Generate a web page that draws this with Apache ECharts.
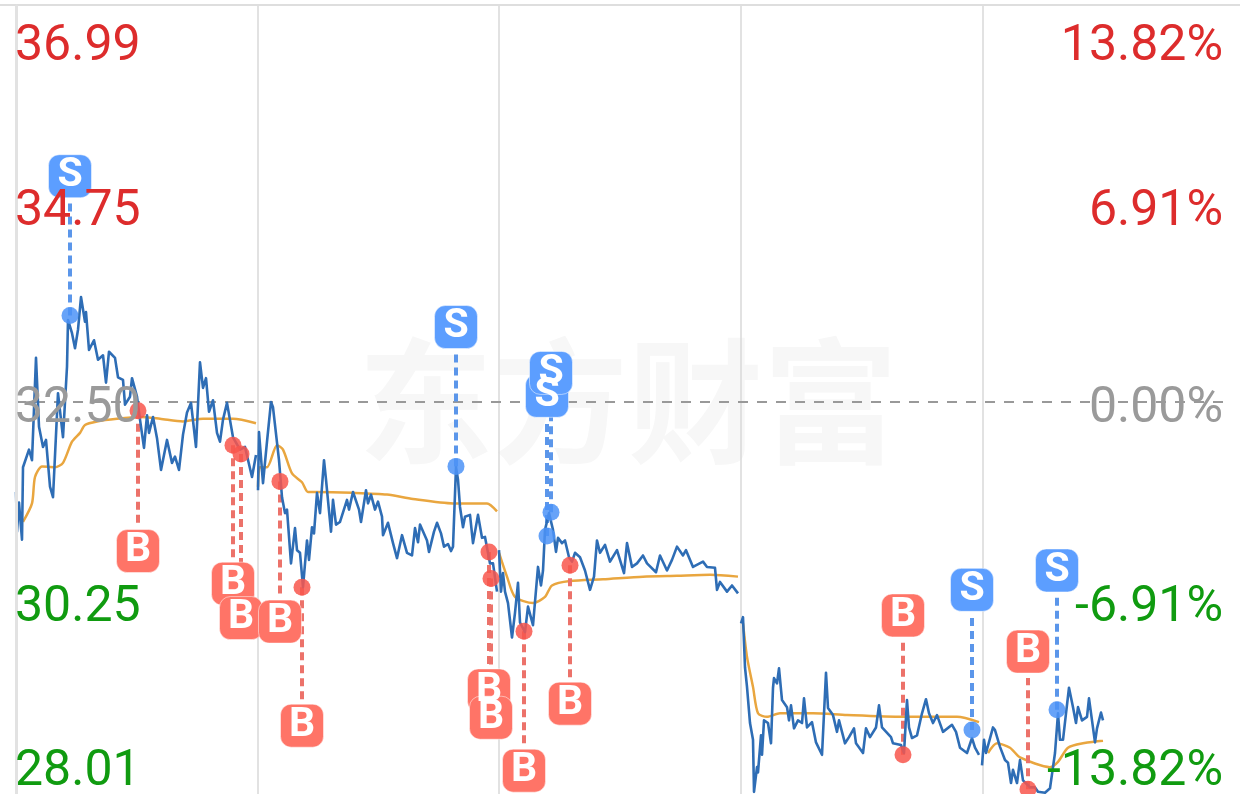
<!DOCTYPE html>
<html><head><meta charset="utf-8">
<style>html,body{margin:0;padding:0;background:#fff}#c{width:1240px;height:794px}</style>
<script src="https://cdn.jsdelivr.net/npm/echarts@6/dist/echarts.min.js"></script>
</head><body><div id="c"></div>
<script>
const priceTicks=[28.01,30.25,32.50,34.75,36.99];
const pctTicks=[-13.82,-6.91,0,6.91,13.82];
const gridPrices=[30.25,34.75];
const priceTimes=[0,1,3,6,7,13,16,20,23,27,30,34,37,42,47,51,52,56,59,62,65,69,70,73,78,82,87,90,93,99,102,107,109,114,116,121,124,128,131,133,137,141,145,151,156,159,163,167,171,175,180,184,187,190,193,197,201,204,207,211,217,224,229,236,240,241,
242,243,247,251,255,257,263,266,269,271,275,279,281,284,287,291,293,296,298,301,304,308,310,315,317,320,324,331,333,337,343,345,350,352,355,359,362,366,367,372,377,381,386,391,396,399,402,404,411,413,418,421,425,428,432,435,437,440,442,444,447,449,454,457,462,466,469,474,477,481,482,
483,485,487,489,492,496,499,502,504,509,512,517,522,525,527,529,533,537,540,542,546,549,553,556,559,564,569,574,578,581,584,589,594,601,608,611,616,621,627,631,640,644,651,656,661,667,670,677,687,691,699,701,704,711,716,722,723,
725,727,729,731,734,737,738,741,742,745,746,748,752,755,757,758,761,763,766,771,773,775,778,782,786,788,791,796,800,806,810,812,817,821,823,829,833,838,840,847,850,854,860,863,866,875,877,885,888,891,893,896,901,906,910,913,917,921,927,936,940,944,951,956,959,963,964,
966,968,970,977,979,984,989,992,995,997,1001,1004,1007,1014,1019,1022,1029,1034,1037,1039,1042,1044,1047,1050,1053,1057,1060,1062,1066,1071,1073,1076,1079,1081,1085,1087];
const prices=[31.48,31.03,31.36,30.94,31.76,31.96,31.84,33.00,32.22,31.99,32.07,31.54,31.42,32.60,32.10,32.90,33.43,33.28,33.11,33.32,33.69,33.41,33.52,33.09,33.20,32.98,33.03,32.72,33.07,33.00,32.78,32.75,32.47,32.56,32.77,32.56,32.30,31.98,32.35,32.15,32.33,32.09,31.73,32.07,31.81,31.88,31.73,32.13,32.38,32.49,31.99,32.95,32.66,32.77,32.39,32.52,32.15,32.05,32.30,32.49,32.10,31.96,31.99,31.65,31.90,null,
31.50,32.16,31.58,32.05,32.50,32.44,31.84,31.42,31.24,31.28,30.67,31.07,30.82,30.79,30.40,30.93,30.71,31.08,31.01,31.47,31.24,31.84,31.62,31.03,31.39,31.11,31.14,31.39,31.28,31.48,31.28,31.14,31.50,31.35,31.45,31.28,31.37,31.20,30.99,31.13,30.90,30.73,30.99,30.79,30.76,31.07,30.91,31.11,30.93,30.80,31.03,31.13,31.01,30.86,30.89,30.81,30.86,31.76,31.62,31.31,31.08,31.20,31.22,30.90,31.22,30.96,30.97,30.67,30.67,30.35,null,
30.82,30.35,30.56,30.35,30.22,29.83,30.11,30.45,30.00,29.89,30.18,29.97,30.63,30.42,30.59,31.05,31.24,31.05,30.80,30.96,30.90,30.93,30.74,30.69,30.79,30.74,30.59,30.37,30.52,30.93,30.79,30.88,30.69,30.82,30.56,30.90,30.63,30.67,30.76,30.67,30.57,30.76,30.59,30.71,30.86,30.76,30.82,30.63,30.69,30.63,30.62,30.37,30.46,30.35,30.42,30.33,null,
29.99,30.06,29.49,29.27,28.86,28.67,28.08,28.36,28.30,28.72,28.50,28.89,28.86,28.63,29.26,29.37,29.31,29.48,29.12,29.04,28.89,29.06,28.80,28.89,28.86,29.14,28.81,28.87,28.64,28.50,29.43,29.03,28.95,28.76,28.89,28.63,28.70,28.80,28.63,28.52,28.80,28.70,28.81,29.06,28.81,28.70,28.63,28.61,28.52,29.12,28.81,28.69,28.72,28.97,29.13,28.97,28.86,28.95,28.76,28.84,28.76,28.58,28.52,28.69,28.58,28.50,null,
28.38,28.67,28.52,28.81,28.78,28.59,28.44,28.41,28.18,28.33,28.18,28.44,28.21,28.13,28.13,28.08,28.07,28.12,28.36,28.52,28.97,28.67,28.67,28.97,29.26,29.04,28.86,29.04,28.89,28.93,29.14,28.89,28.64,28.80,28.98,28.89];
const avgTimes=[7,16,19,26,39,47,56,64,69,81,101,124,144,167,187,217,240,241,
242,244,251,261,267,276,286,292,301,337,371,397,437,471,481,482,
483,491,499,517,529,536,554,587,627,661,694,722,723,
727,731,737,742,751,764,797,831,887,941,963,964,
972,981,994,1004,1034,1042,1052,1067,1087];
const avgPrices=[31.14,31.35,31.65,31.77,31.76,31.81,32.05,32.15,32.24,32.28,32.31,32.33,32.31,32.28,32.31,32.31,32.26,null,
31.54,31.76,31.76,32.01,31.96,31.69,31.59,31.48,31.48,31.47,31.45,31.40,31.35,31.35,31.26,null,
30.79,30.52,30.29,30.22,30.29,30.42,30.47,30.49,30.52,30.53,30.54,30.52,null,
29.99,29.61,29.27,28.97,28.93,28.97,28.97,28.95,28.93,28.93,28.87,null,
28.52,28.63,28.58,28.47,28.36,28.42,28.58,28.63,28.66];
const signalTypes=['S','B','B','B','B','B','S','B','B','B','S','S','B','B','S','B','S'];
const signalTimes=[54,122,217,225,264,286,440,473,475,508,531,535,554,887,956,1012,1041];
const signalPrices=[33.48,32.40,32.01,31.91,31.60,30.40,31.77,30.80,30.50,29.90,30.98,31.25,30.65,28.50,28.78,28.11,29.01];
const badgePrices=[35.06,30.81,30.44,30.05,30.01,28.83,33.35,29.23,28.92,28.32,32.57,32.83,29.08,30.08,30.37,29.67,30.59];
const watermark='东方财富';

const C={S:'#5C9EFF',B:'#FF7467',Sd:'#4C93F7',Bd:'#F8564C',Sl:'#5B96EA',Bl:'#EC726A'};
const pair=(t,v)=>t.map((x,i)=>[x,v[i]]);
const FS=50;
const rich={
  top:{color:'#DD2C2C',fontSize:FS,fontFamily:'Roboto',padding:[83,0,0,0]},
  up:{color:'#DD2C2C',fontSize:FS,fontFamily:'Roboto',padding:[17,0,0,0]},
  flat:{color:'#9A9A9A',fontSize:FS,fontFamily:'Roboto',padding:[15,0,0,0]},
  down:{color:'#109B10',fontSize:FS,fontFamily:'Roboto',padding:[17,0,0,0]},
  bot:{color:'#109B10',fontSize:FS,fontFamily:'Roboto',padding:[0,0,51,0]}
};
const keys=['bot','down','flat','up','top'];
const fmt=(ticks,suffix)=>v=>{
  let k=0,b=1e9;ticks.forEach((t,i)=>{if(Math.abs(t-v)<b){b=Math.abs(t-v);k=i}});
  return '{'+keys[k]+'|'+ticks[k].toFixed(2)+suffix+'}';
};
const chart=echarts.init(document.getElementById('c'),null,{renderer:'canvas'});
const stems=signalTypes.map((s,i)=>{
  const d=signalPrices[i]>badgePrices[i]?0.3:-0.3;
  return [{coord:[signalTimes[i],signalPrices[i]],lineStyle:{color:C[s+'l'],width:4,type:[8,5]}},
          {coord:[signalTimes[i],badgePrices[i]+d]}];
});
chart.setOption({
  animation:false,
  backgroundColor:'#fff',
  graphic:[
    {type:'line',z:1,silent:true,shape:{x1:0,y1:5,x2:1240,y2:5},style:{stroke:'#DEDEDE',lineWidth:2}},
    {type:'text',left:358,top:334,z:-1,silent:true,
     style:{text:watermark,fontSize:135,fontWeight:'bold',fontFamily:'"Noto Sans CJK SC"',fill:'#F7F7F7'}}],
  grid:{left:16,top:6,width:1208,height:792,containLabel:false,outerBoundsMode:'none'},
  xAxis:{type:'value',min:0,max:1208,interval:241.6,position:'top',
    axisLine:{show:false},
    axisTick:{show:false},axisLabel:{show:false},
    splitLine:{show:true,showMaxLine:false,lineStyle:{color:'#D9D9D9',width:1.5}}},
  yAxis:[
    {type:'value',min:28.01,max:36.99,position:'left',z:10,
     axisLine:{show:true,onZero:false,lineStyle:{color:'#E2E2E2',width:3}},
     axisTick:{show:false,customValues:gridPrices},
     axisLabel:{show:true,inside:true,margin:-1,customValues:priceTicks,formatter:fmt(priceTicks,''),rich,hideOverlap:false},
     splitLine:{show:true,showMinLine:false,showMaxLine:false,lineStyle:{color:'#CFCFCF',width:1,type:'dotted'}}},
    {type:'value',min:-13.82,max:13.82,position:'right',z:10,
     axisLine:{show:false},
     axisTick:{show:false,customValues:pctTicks},
     axisLabel:{show:true,inside:true,margin:1,customValues:pctTicks,formatter:fmt(pctTicks,'%'),rich,hideOverlap:false},
     splitLine:{show:false}}
  ],
  series:[
    {name:'均价',type:'line',data:pair(avgTimes,avgPrices),showSymbol:false,connectNulls:false,z:2,smooth:0.25,
     lineStyle:{color:'#E9A63F',width:2.5},itemStyle:{color:'#E9A63F'}},
    {name:'价格',type:'line',data:pair(priceTimes,prices),showSymbol:false,connectNulls:false,z:3,
     lineStyle:{color:'#2E6DB5',width:2.6,join:'round'},itemStyle:{color:'#2E6DB5'},
     markLine:{silent:true,symbol:'none',label:{show:false},animation:false,z:3,
       data:[{yAxis:32.5,lineStyle:{color:'#999',width:2,type:[10,9]}}].concat(stems)}},
    {name:'信号点',type:'scatter',data:pair(signalTimes,signalPrices),symbolSize:17,z:4,
     itemStyle:{color:p=>signalTypes[p.dataIndex]==='S'?C.Sd:C.Bd,opacity:.85}},
    {name:'信号',type:'scatter',data:pair(signalTimes,badgePrices),symbol:'roundRect',symbolSize:43,z:5,
     itemStyle:{color:p=>C[signalTypes[p.dataIndex]],opacity:1,borderColor:'rgba(255,255,255,.5)',borderWidth:1},
     label:{show:true,position:'inside',formatter:p=>signalTypes[p.dataIndex],color:'#fff',fontSize:41,fontWeight:'bold',fontFamily:'Roboto'}}
  ]
});
</script></body></html>
